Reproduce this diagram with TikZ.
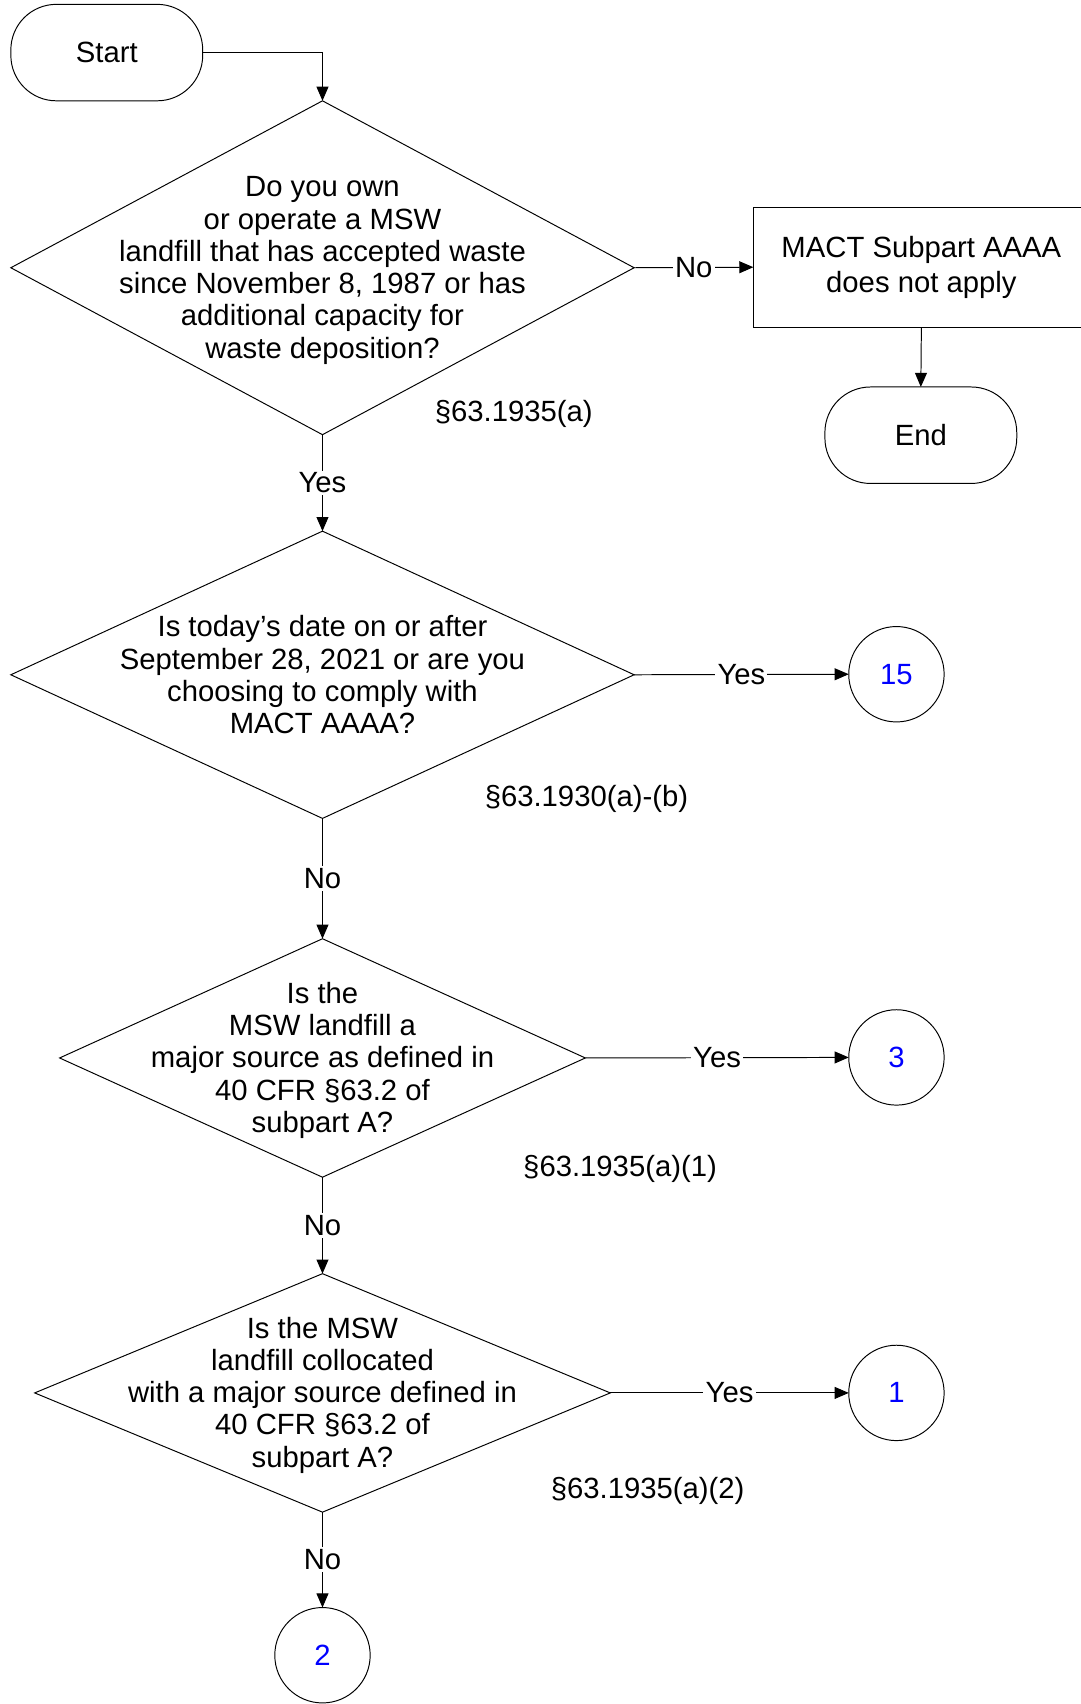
\documentclass[tikz,border=0pt]{standalone}
\usepackage{fontspec}
\setmainfont{Liberation Sans}
\usetikzlibrary{shapes.geometric,arrows.meta}

\tikzset{
  terminal/.style={draw, rectangle, rounded corners=42pt, minimum width=177pt, minimum height=89pt, inner sep=0pt, outer sep=0pt},
  decision/.style={draw, diamond, inner sep=0pt, outer sep=0pt},
  process/.style={draw, rectangle, align=center, inner sep=0pt, outer sep=0pt},
  offpage/.style={draw, circle, minimum size=88pt, inner sep=0pt, outer sep=0pt, text=blue},
  qtext/.style={align=center, inner sep=0pt},
  answer/.style={fill=white, inner sep=2pt},
  flow/.style={-{Triangle[length=13pt,width=11pt]}},
}

\begin{document}
\begin{tikzpicture}[x=1pt,y=1pt,yscale=-1,line width=0.9pt,every node/.style={font=\fontsize{27}{29.8}\selectfont}]
\useasboundingbox (0,0) rectangle (997,1572);

%Shape: Terminal [id:start]
\node[terminal] (start) at (98.5,48.5) {Start};

%Shape: Diamond [id:q1]
\node[decision, minimum width=575pt, minimum height=308pt] (q1) at (297.5,247) {};
\node[qtext] (q1txt) at (297.5,249.5) {Do you own\\or operate a MSW\\landfill that has accepted waste\\since November 8, 1987 or has\\additional capacity for\\waste deposition?};
% Text Node
\node (ref1) at (474,382) {§63.1935(a)};

%Shape: Rectangle [id:notapply]
\node[process, minimum width=310pt, minimum height=111pt, font=\fontsize{27}{32}\selectfont] (notapply) at (850,246.5) {MACT Subpart AAAA\\does not apply};

%Shape: Terminal [id:end]
\node[terminal] (end) at (849.5,401.5) {End};

%Shape: Diamond [id:q2]
\node[decision, minimum width=575pt, minimum height=265pt] (q2) at (297.5,622.5) {};
\node[qtext] (q2txt) at (297.5,622.5) {Is today’s date on or after\\September 28, 2021 or are you\\choosing to comply with\\MACT AAAA?};
% Text Node
\node (ref2) at (541,737) {§63.1930(a)-(b)};

%Shape: Diamond [id:q3]
\node[decision, minimum width=485pt, minimum height=220pt] (q3) at (297.5,976) {};
\node[qtext] (q3txt) at (297.5,978) {Is the\\MSW landfill a\\major source as defined in\\40 CFR §63.2 of\\subpart A?};
% Text Node
\node (ref3) at (572,1078) {§63.1935(a)(1)};

%Shape: Diamond [id:q4]
\node[decision, minimum width=531pt, minimum height=220pt] (q4) at (297.5,1285) {};
\node[qtext] (q4txt) at (297.5,1287) {Is the MSW\\landfill collocated\\with a major source defined in\\40 CFR §63.2 of\\subpart A?};
% Text Node
\node (ref4) at (597.5,1375) {§63.1935(a)(2)};

%Shape: Circle [id:off-page connectors]
\node[offpage] (c15) at (827,622) {15};
\node[offpage] (c3) at (827,975.5) {3};
\node[offpage] (c1) at (827,1285) {1};
\node[offpage] (c2) at (297.5,1527) {2};

%Straight Lines
\draw[flow] (start.east) -| (q1.north);
\draw[flow] (q1.east) -- node[answer] {No} (notapply.west);
\draw[flow] (notapply.south) -- (end.north);
\draw[flow] (q1.south) -- node[answer] {Yes} (q2.north);
\draw[flow] (q2.east) -- node[answer] {Yes} (c15.west);
\draw[flow] (q2.south) -- node[answer] {No} (q3.north);
\draw[flow] (q3.east) -- node[answer] {Yes} (c3.west);
\draw[flow] (q3.south) -- node[answer] {No} (q4.north);
\draw[flow] (q4.east) -- node[answer] {Yes} (c1.west);
\draw[flow] (q4.south) -- node[answer] {No} (c2.north);

\end{tikzpicture}
\end{document}
